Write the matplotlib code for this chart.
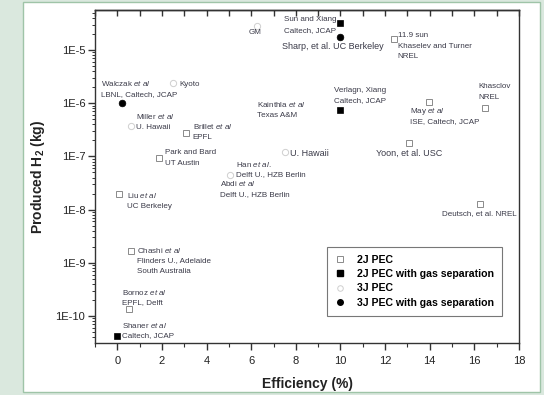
import numpy as np
import matplotlib
matplotlib.use('Agg')
import matplotlib.pyplot as plt
from matplotlib.patches import Rectangle
from matplotlib.lines import Line2D
from matplotlib.ticker import FixedLocator, FuncFormatter, LogLocator, MultipleLocator, NullFormatter

plt.rcParams['font.family'] = ['Liberation Sans', 'DejaVu Sans']
plt.rcParams['mathtext.fontset'] = 'custom'
plt.rcParams['mathtext.rm'] = 'Liberation Sans'
plt.rcParams['mathtext.it'] = 'Liberation Sans:italic'
plt.rcParams['mathtext.bf'] = 'Liberation Sans:bold'

# ---------------- data ----------------
series_names = ["2J PEC", "2J PEC with gas separation", "3J PEC", "3J PEC with gas separation"]

pec2_eff = [0.09, 1.89, 3.10, 0.63, 0.54, 12.39, 13.96, 16.47, 13.06, 16.25]
pec2_h2 = [2.0e-8, 9.3e-8, 2.8e-7, 1.66e-9, 1.35e-10, 1.6e-5, 1.05e-6, 8.1e-7, 1.8e-7, 1.3e-8]

pec2gs_eff = [9.96, 9.96, 0.0]
pec2gs_h2 = [3.2e-5, 7.4e-7, 4.2e-11]

pec3_eff = [6.24, 2.51, 0.63, 5.03, 7.5]
pec3_h2 = [2.8e-5, 2.4e-6, 3.7e-7, 4.5e-8, 1.2e-7]

pec3gs_eff = [0.22, 9.96]
pec3gs_h2 = [1.0e-6, 1.75e-5]

x_ticks = [0, 2, 4, 6, 8, 10, 12, 14, 16, 18]
y_ticks = [1e-10, 1e-9, 1e-8, 1e-7, 1e-6, 1e-5]

# label lines and anchor (efficiency, log10 H2 of block centre)
ET = r"$\mathit{et\ al}$"
labels = [
    (["GM"], 5.88, -4.68, 5.8),
    (["Sun and Xiang", "Caltech, JCAP"], 7.45, -4.53, 5.8),
    (["Sharp, et al. UC Berkeley"], 7.36, -4.94, 6.5),
    (["11.9 sun", "Khaselev and Turner", "NREL"], 12.57, -4.93, 5.8),
    (["Verlagn, Xiang", "Caltech, JCAP"], 9.69, -5.86, 5.8),
    (["Kainthla " + ET, "Texas A&M"], 6.24, -6.13, 5.8),
    (["Khasclov", "NREL"], 16.16, -5.79, 5.8),
    (["May " + ET, "ISE, Caltech, JCAP"], 13.1, -6.25, 5.8),
    (["Yoon, et al. USC"], 11.58, -6.94, 6.5),
    (["U. Hawaii"], 7.76, -6.94, 6.5),
    (["Walczak " + ET, "LBNL, Caltech, JCAP"], -0.72, -5.73, 5.8),
    (["Kyoto"], 2.78, -5.64, 5.8),
    (["Miller " + ET, "U. Hawaii"], 0.85, -6.35, 5.8),
    (["Brillet " + ET, "EPFL"], 3.37, -6.54, 5.8),
    (["Park and Bard", "UT Austin"], 2.15, -7.03, 5.8),
    (["Han " + ET + ".", "Delft U., HZB Berlin"], 5.34, -7.25, 5.8),
    (["Abdi " + ET, "Delft U., HZB Berlin"], 4.58, -7.61, 5.8),
    (["Liu " + ET, "UC Berkeley"], 0.45, -7.84, 5.8),
    (["Deutsch, et al. NREL"], 14.54, -8.08, 5.8),
    (["Chashi " + ET, "Flinders U., Adelaide", "South Australia"], 0.9, -8.96, 5.8),
    (["Bornoz " + ET, "EPFL, Delft"], 0.22, -9.65, 5.8),
    (["Shaner " + ET, "Caltech, JCAP"], 0.22, -10.27, 5.8),
]

# ---------------- figure ----------------
fig = plt.figure(figsize=(5.44, 3.95), dpi=100)
fig.patch.set_facecolor('#dae8de')
panel = Rectangle((23 / 544, 1 - 392 / 395), 517 / 544, 390 / 395, transform=fig.transFigure,
                  facecolor='white', edgecolor='#9fc4a8', linewidth=1.0, zorder=-10)
fig.patches.append(panel)

ax = fig.add_axes([95 / 544, 1 - 343 / 395, (519 - 95) / 544, (343 - 10) / 395])
ax.set_zorder(1)
ax.set_facecolor('white')
ax.set_yscale('log')
ax.set_xlim(-1, 18)
ax.set_ylim(10 ** -10.507, 10 ** -4.248)

ms = 4
ax.plot(pec2_eff, pec2_h2, ls='none', marker='s', ms=ms, mfc='white', mec='#8a8a8a', mew=0.7, zorder=3)
ax.plot(pec2gs_eff, pec2gs_h2, ls='none', marker='s', ms=ms + 0.5, mfc='black', mec='black', mew=0.5, zorder=3)
ax.plot(pec3_eff, pec3_h2, ls='none', marker='o', ms=ms + 0.5, mfc='white', mec='#cfcfcf', mew=0.7, zorder=3)
ax.plot(pec3gs_eff, pec3gs_h2, ls='none', marker='o', ms=ms + 0.8, mfc='black', mec='black', mew=0.5, zorder=3)

line_step = 10.5 * 0.72  # points between text lines
for lines, x, ly, fs in labels:
    n = len(lines)
    for i, t in enumerate(lines):
        dy = ((n - 1) / 2 - i) * line_step
        ax.annotate(t, (x, 10 ** ly), xytext=(0, dy), textcoords='offset points',
                    fontsize=fs, color='#3a3a48', ha='left', va='center', zorder=4)

# axes style
for s in ax.spines.values():
    s.set_linewidth(1.0)
    s.set_color('#333333')

ax.xaxis.set_major_locator(FixedLocator(x_ticks))
ax.xaxis.set_minor_locator(MultipleLocator(1))
ax.tick_params(axis='x', which='major', direction='out', length=5, width=1.0, labelsize=8, pad=4,
               colors='#333333', labelcolor='#222222')
ax.tick_params(axis='x', which='minor', direction='out', length=3, width=0.8, colors='#333333')

ax.yaxis.set_major_locator(FixedLocator(y_ticks))
ax.yaxis.set_minor_locator(LogLocator(base=10, subs=np.arange(2, 10), numticks=20))
ax.yaxis.set_minor_formatter(NullFormatter())
ax.yaxis.set_major_formatter(FuncFormatter(lambda v, p: "1E%d" % int(round(np.log10(v)))))
ax.tick_params(axis='y', which='major', direction='out', length=5, width=1.0, labelsize=8, pad=2,
               colors='#333333', labelcolor='#222222')
ax.tick_params(axis='y', which='minor', direction='out', length=2.5, width=0.7, colors='#333333')

top = ax.secondary_xaxis('top')
top.xaxis.set_major_locator(MultipleLocator(1))
top.tick_params(direction='in', length=4, width=1.0, labeltop=False, colors='#333333')
top.spines['top'].set_linewidth(1.0)

ax.set_xlabel("Efficiency (%)", fontsize=10, fontweight='bold', labelpad=8, color='#222222')
ax.set_ylabel(r"Produced H$_\mathbf{2}$ (kg)", fontsize=10, fontweight='bold', labelpad=6, color='#222222')

handles = [
    Line2D([], [], ls='none', marker='s', ms=ms, mfc='white', mec='#8a8a8a', mew=0.7),
    Line2D([], [], ls='none', marker='s', ms=ms, mfc='black', mec='black'),
    Line2D([], [], ls='none', marker='o', ms=ms, mfc='white', mec='#cfcfcf', mew=0.7),
    Line2D([], [], ls='none', marker='o', ms=ms, mfc='black', mec='black'),
]
leg = ax.legend(handles, series_names, loc='upper left', bbox_to_anchor=(327 / 544, 1 - 247 / 395),
                bbox_transform=fig.transFigure, frameon=True, fancybox=False,
                prop={'size': 7.6, 'weight': 'bold'}, labelspacing=0.4, handlelength=1.0,
                handletextpad=1.1, borderpad=0.75, borderaxespad=0)
leg.get_frame().set_edgecolor('#555555')
leg.get_frame().set_linewidth(0.8)

fig.savefig('out.png', dpi=100, facecolor=fig.get_facecolor())
